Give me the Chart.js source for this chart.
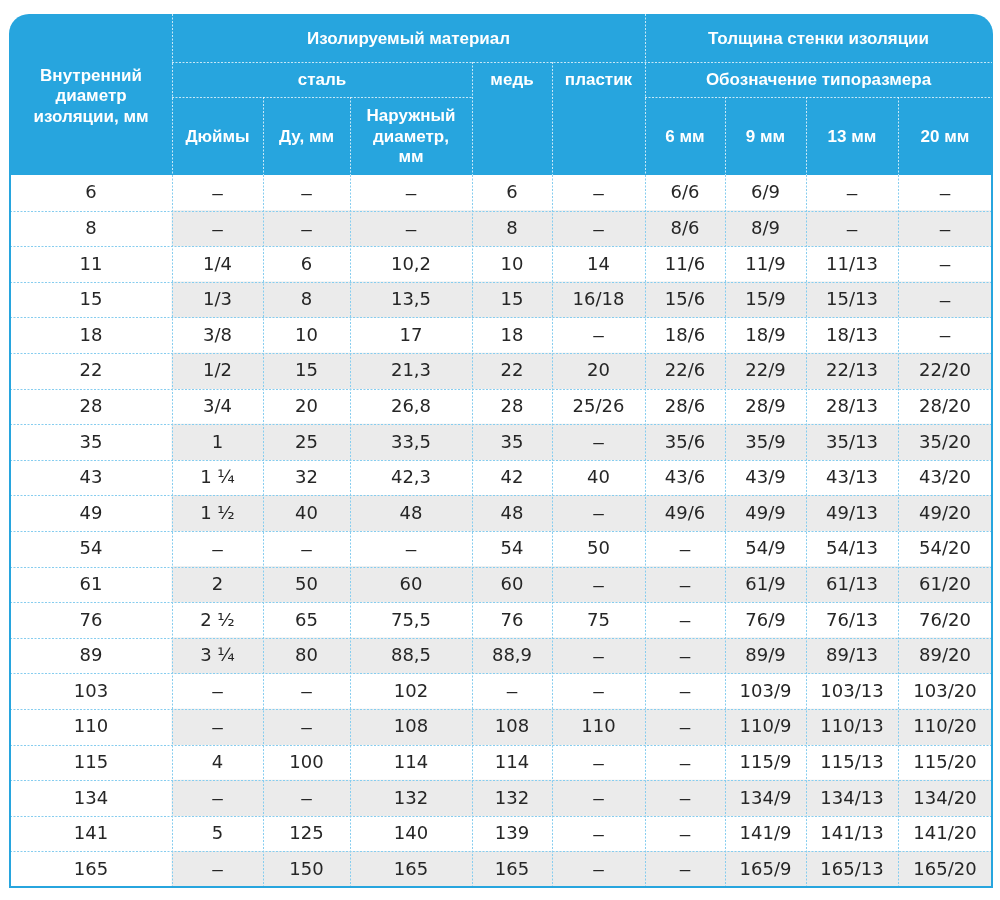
<!DOCTYPE html>
<html>
<head>
<meta charset="utf-8">
<script src="https://cdn.jsdelivr.net/npm/chart.js@4.4.0/dist/chart.umd.min.js"></script>
<style>
  body { margin: 0; background: #fff; }
  #wrap { width: 1000px; height: 900px; position: relative; }
</style>
</head>
<body>
<div id="wrap"><canvas id="table"></canvas></div>
<script>
// table data, one array per column
const innerDiam = ["6", "8", "11", "15", "18", "22", "28", "35", "43", "49", "54", "61", "76", "89", "103", "110", "115", "134", "141", "165"];
const inches = ["–", "–", "1/4", "1/3", "3/8", "1/2", "3/4", "1", "1 ¼", "1 ½", "–", "2", "2 ½", "3 ¼", "–", "–", "4", "–", "5", "–"];
const duMm = ["–", "–", "6", "8", "10", "15", "20", "25", "32", "40", "–", "50", "65", "80", "–", "–", "100", "–", "125", "150"];
const outerDiam = ["–", "–", "10,2", "13,5", "17", "21,3", "26,8", "33,5", "42,3", "48", "–", "60", "75,5", "88,5", "102", "108", "114", "132", "140", "165"];
const copper = ["6", "8", "10", "15", "18", "22", "28", "35", "42", "48", "54", "60", "76", "88,9", "–", "108", "114", "132", "139", "165"];
const plastic = ["–", "–", "14", "16/18", "–", "20", "25/26", "–", "40", "–", "50", "–", "75", "–", "–", "110", "–", "–", "–", "–"];
const size6 = ["6/6", "8/6", "11/6", "15/6", "18/6", "22/6", "28/6", "35/6", "43/6", "49/6", "–", "–", "–", "–", "–", "–", "–", "–", "–", "–"];
const size9 = ["6/9", "8/9", "11/9", "15/9", "18/9", "22/9", "28/9", "35/9", "43/9", "49/9", "54/9", "61/9", "76/9", "89/9", "103/9", "110/9", "115/9", "134/9", "141/9", "165/9"];
const size13 = ["–", "–", "11/13", "15/13", "18/13", "22/13", "28/13", "35/13", "43/13", "49/13", "54/13", "61/13", "76/13", "89/13", "103/13", "110/13", "115/13", "134/13", "141/13", "165/13"];
const size20 = ["–", "–", "–", "–", "–", "22/20", "28/20", "35/20", "43/20", "49/20", "54/20", "61/20", "76/20", "89/20", "103/20", "110/20", "115/20", "134/20", "141/20", "165/20"];

const bodyColumns = [inches, duMm, outerDiam, copper, plastic, size6, size9, size13, size20];

// layout (pixels)
const colEdges = [10, 172, 263, 350, 472, 552, 645, 725, 806, 898, 992];
const headTop = 14, headRowA = 62, headRowB = 97, headBottom = 175, tableBottom = 887;
const BLUE = "#27a5de";
const STRIPE = "#ebebeb";
const HEAD_FONT = "'Liberation Sans', Arial, sans-serif";
const BODY_FONT = "'DejaVu Sans', sans-serif";

const mid = (a, b) => (a + b) / 2;

const tablePlugin = {
  id: "tableDraw",
  beforeDatasetsDraw(chart) {
    const ctx = chart.ctx;
    const x = chart.scales.x;
    const L = x.getPixelForValue(colEdges[0]);
    const R = x.getPixelForValue(colEdges[colEdges.length - 1]);
    ctx.save();
    ctx.fillStyle = BLUE;
    ctx.beginPath();
    ctx.roundRect(L - 1, headTop, R - L + 2, headBottom - headTop, [20, 20, 0, 0]);
    ctx.fill();
    ctx.restore();
  },
  afterDatasetsDraw(chart) {
    const ctx = chart.ctx;
    const x = chart.scales.x;
    const y = chart.scales.y;
    const area = chart.chartArea;
    const px = (v) => x.getPixelForValue(v);
    const E = colEdges.map(px);

    ctx.save();
    // body grid, dotted light blue
    ctx.strokeStyle = "#86cdef";
    ctx.lineWidth = 1;
    ctx.setLineDash([2, 1.5]);
    for (let i = 0; i < innerDiam.length - 1; i++) {
      const yy = Math.round(mid(y.getPixelForValue(i), y.getPixelForValue(i + 1))) + 0.5;
      ctx.beginPath();
      ctx.moveTo(E[0], yy);
      ctx.lineTo(E[E.length - 1], yy);
      ctx.stroke();
    }
    for (let c = 1; c < E.length - 1; c++) {
      const xx = Math.round(E[c]) + 0.5;
      ctx.beginPath();
      ctx.moveTo(xx, area.top);
      ctx.lineTo(xx, area.bottom);
      ctx.stroke();
    }

    // header grid, dotted white
    ctx.strokeStyle = "rgba(255,255,255,0.75)";
    const hline = (x0, x1, yy) => {
      ctx.beginPath(); ctx.moveTo(x0, yy + 0.5); ctx.lineTo(x1, yy + 0.5); ctx.stroke();
    };
    const vline = (xx, y0, y1) => {
      ctx.beginPath(); ctx.moveTo(Math.round(xx) + 0.5, y0); ctx.lineTo(Math.round(xx) + 0.5, y1); ctx.stroke();
    };
    hline(E[1], E[10], headRowA);
    hline(E[1], E[4], headRowB);
    hline(E[6], E[10], headRowB);
    vline(E[1], headTop, headBottom);
    vline(E[6], headTop, headBottom);
    vline(E[4], headRowA, headBottom);
    vline(E[5], headRowA, headBottom);
    vline(E[2], headRowB, headBottom);
    vline(E[3], headRowB, headBottom);
    vline(E[7], headRowB, headBottom);
    vline(E[8], headRowB, headBottom);
    vline(E[9], headRowB, headBottom);
    ctx.setLineDash([]);

    // outer border of body
    ctx.strokeStyle = BLUE;
    ctx.lineWidth = 2;
    ctx.beginPath();
    ctx.moveTo(E[0], headBottom);
    ctx.lineTo(E[0], tableBottom);
    ctx.lineTo(E[10], tableBottom);
    ctx.lineTo(E[10], headBottom);
    ctx.stroke();

    // header text
    ctx.fillStyle = "#fff";
    ctx.textAlign = "center";
    ctx.textBaseline = "middle";
    ctx.font = "bold 17px " + HEAD_FONT;
    const label = (lines, cx, cy, lh) => {
      lines.forEach((t, k) => ctx.fillText(t, cx, cy + (k - (lines.length - 1) / 2) * lh));
    };
    label(["Внутренний", "диаметр", "изоляции, мм"], mid(E[0], E[1]), 96.5, 20.5);
    label(["Изолируемый материал"], mid(E[1], E[6]), 39, 0);
    label(["Толщина стенки изоляции"], mid(E[6], E[10]), 39, 0);
    label(["сталь"], mid(E[1], E[4]), 80, 0);
    label(["медь"], mid(E[4], E[5]), 80, 0);
    label(["пластик"], mid(E[5], E[6]), 80, 0);
    label(["Обозначение типоразмера"], mid(E[6], E[10]), 80, 0);
    label(["Дюймы"], mid(E[1], E[2]), 137, 0);
    label(["Ду, мм"], mid(E[2], E[3]), 137, 0);
    label(["Наружный", "диаметр,", "мм"], mid(E[3], E[4]), 137, 20.5);
    ["6 мм", "9 мм", "13 мм", "20 мм"].forEach((t, k) => label([t], mid(E[6 + k], E[7 + k]), 137, 0));

    // body text
    ctx.fillStyle = "#262626";
    const cell = (t, cx, cy) => {
      // the dash is drawn wider and at mid height, as in the source
      ctx.font = t === "–" ? "19px " + HEAD_FONT : "18px " + BODY_FONT;
      ctx.fillText(t, cx, cy);
    };
    innerDiam.forEach((v, i) => {
      const cy = y.getPixelForValue(i) + 1;
      cell(v, mid(E[0], E[1]), cy);
      bodyColumns.forEach((col, c) => cell(col[i], mid(E[c + 1], E[c + 2]), cy));
    });
    ctx.restore();
  }
};

new Chart(document.getElementById("table"), {
  type: "bar",
  data: {
    labels: innerDiam,
    datasets: [{
      // grey stripes on every second row (first column stays white)
      data: innerDiam.map((_, i) => (i % 2 === 1 ? [colEdges[1], colEdges[10]] : null)),
      backgroundColor: STRIPE,
      borderWidth: 0,
      barPercentage: 1,
      categoryPercentage: 1
    }]
  },
  options: {
    indexAxis: "y",
    responsive: true,
    maintainAspectRatio: false,
    animation: false,
    layout: { padding: { left: 10, right: 8, top: headBottom, bottom: 900 - tableBottom } },
    scales: {
      x: { type: "linear", min: colEdges[0], max: colEdges[10], display: false },
      y: { type: "category", offset: true, display: false }
    },
    plugins: { legend: { display: false }, tooltip: { enabled: false } }
  },
  plugins: [tablePlugin]
});
</script>
</body>
</html>
